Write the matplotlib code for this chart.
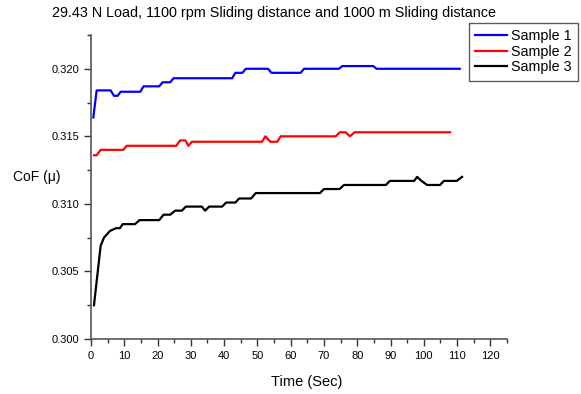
import matplotlib
matplotlib.use("Agg")
import matplotlib.pyplot as plt
from matplotlib.ticker import MultipleLocator, FormatStrFormatter

plt.rcParams['font.family'] = ['Liberation Sans', 'DejaVu Sans']

title = "29.43 N Load, 1100 rpm Sliding distance and 1000 m Sliding distance"
x_label = "Time (Sec)"
y_label = "CoF (\u03bc)"
labels = ["Sample 1", "Sample 2", "Sample 3"]
colors = ["#0000ff", "#ff0000", "#000000"]

t1 = [0.7, 1.7, 5.9, 6.9, 8.0, 8.9, 14.8, 15.8, 20.5, 21.5, 23.8, 24.8, 42.4, 43.4,
      45.5, 46.5, 53.2, 54.2, 63.0, 64.0, 74.5, 75.5, 84.8, 85.8, 110.8]
v1 = [0.3164, 0.3184, 0.3184, 0.3180, 0.3180, 0.3183, 0.3183, 0.3187, 0.3187, 0.3190,
      0.3190, 0.3193, 0.3193, 0.3197, 0.3197, 0.3200, 0.3200, 0.3197, 0.3197, 0.3200,
      0.3200, 0.3202, 0.3202, 0.3200, 0.3200]

t2 = [0.9, 1.7, 2.9, 9.7, 10.7, 25.6, 26.8, 28.3, 29.3, 30.3, 51.4, 52.4, 53.9, 56.0,
      57.0, 73.5, 74.8, 76.5, 77.8, 79.2, 107.9]
v2 = [0.3136, 0.3136, 0.3140, 0.3140, 0.3143, 0.3143, 0.3147, 0.3147, 0.3143, 0.3146,
      0.3146, 0.3150, 0.3146, 0.3146, 0.3150, 0.3150, 0.3153, 0.3153, 0.3150, 0.3153,
      0.3153]

t3 = [0.9, 2.9, 3.9, 5.7, 7.5, 8.7, 9.5, 13.2, 14.6, 20.5, 21.8, 23.8, 25.3, 27.3, 28.5,
      33.3, 34.3, 35.5, 39.4, 40.6, 43.4, 44.5, 48.1, 49.5, 68.8, 70.0, 74.7, 76.0, 88.6,
      89.8, 97.1, 98.0, 99.3, 101.0, 104.9, 106.0, 109.9, 111.5]
v3 = [0.3025, 0.3069, 0.3075, 0.3080, 0.3082, 0.3082, 0.3085, 0.3085, 0.3088, 0.3088,
      0.3092, 0.3092, 0.3095, 0.3095, 0.3098, 0.3098, 0.3095, 0.3098, 0.3098, 0.3101,
      0.3101, 0.3104, 0.3104, 0.3108, 0.3108, 0.3111, 0.3111, 0.3114, 0.3114, 0.3117,
      0.3117, 0.3120, 0.3117, 0.3114, 0.3114, 0.3117, 0.3117, 0.3120]

W, H = 581, 394
fig = plt.figure(figsize=(W / 100, H / 100), dpi=100)
ax = fig.add_axes([91 / W, 1 - 339 / H, (507 - 91) / W, (339 - 35) / H])

for t, v, c, lab in zip([t1, t2, t3], [v1, v2, v3], colors, labels):
    ax.plot(t, v, color=c, lw=1.6, label=lab, solid_joinstyle='round')

ax.set_xlim(0, 125)
ax.set_ylim(0.300, 0.3225)
ax.xaxis.set_major_locator(MultipleLocator(10))
ax.xaxis.set_minor_locator(MultipleLocator(5))
ax.yaxis.set_major_locator(MultipleLocator(0.005))
ax.yaxis.set_minor_locator(MultipleLocator(0.0025))
ax.yaxis.set_major_formatter(FormatStrFormatter('%.3f'))
ax.set_xticks([0, 10, 20, 30, 40, 50, 60, 70, 80, 90, 100, 110, 120])

for s in ['top', 'right']:
    ax.spines[s].set_visible(False)
for s in ['left', 'bottom']:
    ax.spines[s].set_color('#555555')
    ax.spines[s].set_linewidth(1.2)

ax.tick_params(which='major', direction='out', length=5, width=1, labelsize=8, colors='#333333', labelcolor='black')
ax.tick_params(which='minor', direction='out', length=3, width=1, colors='#333333')

ax.set_xlabel(x_label, fontsize=10.5)
ax.xaxis.set_label_coords((307 - 91) / (507 - 91), -(375 - 339) / (339 - 35))
fig.text(37 / W, 1 - 177 / H, y_label, fontsize=10, ha='center', va='center')
fig.text(51.5 / W, 1 - 13 / H, title, fontsize=10.4, ha='left', va='center')

leg = fig.legend(loc='upper left', bbox_to_anchor=(469 / W, 1 - 22.5 / H), fontsize=10.3,
                 frameon=True, fancybox=False, handlelength=2.2, handletextpad=0.3,
                 labelspacing=0.12, borderpad=0.45, borderaxespad=0)
leg.get_frame().set_edgecolor('#333333')
leg.get_frame().set_linewidth(1.0)

fig.savefig("out.png", dpi=100)
